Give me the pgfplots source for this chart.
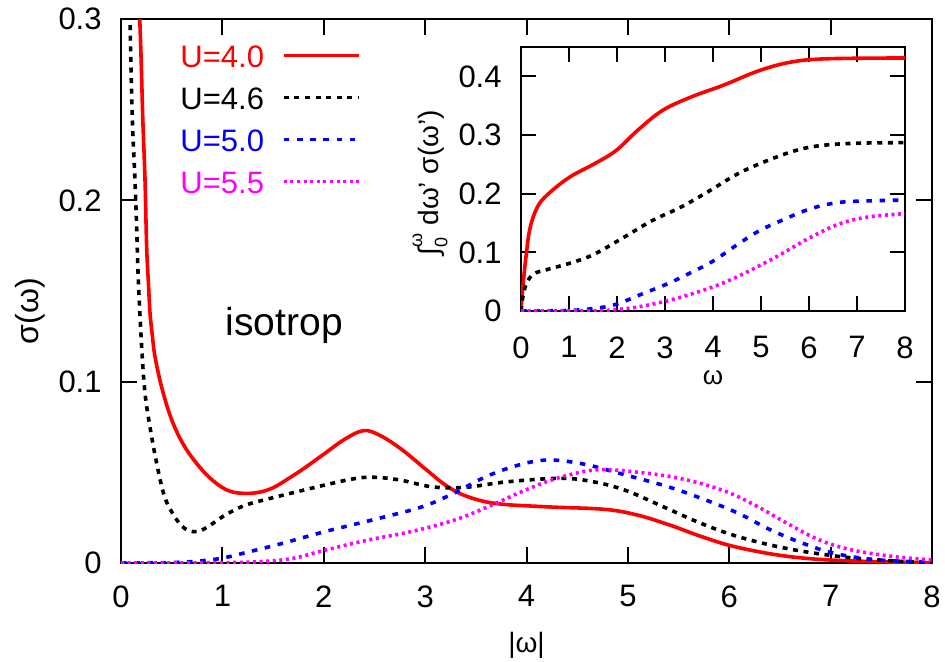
\documentclass[border=0pt]{standalone}
\usepackage{fontspec}
\setmainfont{Liberation Sans}
\usepackage{pgfplots}
\pgfplotsset{compat=1.18}

\definecolor{gpred}{RGB}{255,0,0}
\definecolor{gpblue}{RGB}{0,0,255}
\definecolor{gpmag}{RGB}{255,0,255}

\pgfplotsset{
  gp/.style={
    scale only axis,
    xmin=0, xmax=8,
    xtick={0,1,2,3,4,5,6,7,8},
    axis line style={line width=1pt},
    every tick/.style={line width=1pt, black},
    major tick length=8pt,
    tick align=inside,
    /pgf/number format/assume math mode=true,
    tick label style={font=\fontsize{15.5}{18}\selectfont, inner sep=0pt},
    yticklabel style={xshift=-9.5pt},
  },
  u40/.style={gpred, line width=1.8pt, smooth, tension=0.6},
  u46/.style={black, line width=1.8pt, dash pattern=on 2.5pt off 2.8pt, smooth, tension=0.6},
  u50/.style={gpblue, line width=1.8pt, dash pattern=on 2.8pt off 3.8pt, smooth, tension=0.6},
  u55/.style={gpmag, line width=1.8pt, dash pattern=on 1.5pt off 1.8pt, smooth, tension=0.6},
}

\newcommand{\intlim}{∫\kern0.5pt\raisebox{-0.3em}{\makebox[0pt][l]{\fontsize{9}{9}\selectfont 0}}\raisebox{0.6em}{\fontsize{9}{9}\selectfont ω}}

\begin{document}
\begin{tikzpicture}
\path[use as bounding box] (-60.5pt,-49pt) rectangle (412pt,281.5pt);

% main panel
\begin{axis}[gp,
  width=405.5pt, height=272pt,
  ymin=0, ymax=0.3,
  ytick={0,0.1,0.2,0.3},
  xticklabel style={yshift=-11pt},
  xlabel={|ω|},
  ylabel={σ(ω)},
  every axis x label/.style={at={(axis description cs:0.5,0)}, yshift=-41pt, anchor=center, font=\fontsize{14}{16}\selectfont},
  every axis y label/.style={at={(axis description cs:0,0.463)}, xshift=-45.5pt, rotate=90, anchor=center, font=\fontsize{16}{18}\selectfont},
  legend style={at={(0.0728,0.952)}, anchor=north west, draw=none, fill=none,
    inner sep=0pt, row sep=9.8pt, column sep=9pt,
    nodes={inner sep=0pt, text height=11.2pt, text depth=0pt, font=\fontsize{15.5}{18}\selectfont}},
  legend plot pos=right,
  legend cell align=left,
  legend image code/.code={\draw[#1] (0pt,0.6pt) -- (37.5pt,0.6pt);},
]
\addplot[u40] coordinates {
  (0.17,0.32) (0.185,0.30) (0.20,0.275) (0.215,0.245) (0.237,0.211) (0.253,0.1745)
  (0.27,0.155) (0.286,0.138) (0.31,0.125) (0.335,0.114) (0.40,0.0972) (0.50,0.079)
  (0.63,0.064) (0.80,0.0513) (0.95,0.0435) (1.08,0.0395) (1.22,0.0384) (1.36,0.039)
  (1.50,0.0415) (1.65,0.0465) (1.80,0.052) (2.00,0.060) (2.20,0.068) (2.39,0.073)
  (2.55,0.0705) (2.76,0.063) (3.00,0.052) (3.20,0.043) (3.40,0.037) (3.70,0.0328)
  (4.20,0.031) (4.77,0.0296) (5.09,0.0265) (5.41,0.021) (5.73,0.0145) (6.04,0.0092)
  (6.47,0.0045) (6.89,0.002) (7.47,0.0007) (8.00,0.0002)
};
\addlegendentry{\textcolor{gpred}{U=4.0}}
\addplot[u46] coordinates {
  (0.08,0.32) (0.089,0.30) (0.10,0.27) (0.115,0.24) (0.138,0.211) (0.155,0.184)
  (0.171,0.156) (0.204,0.119) (0.237,0.0936) (0.286,0.075) (0.352,0.055) (0.43,0.0366)
  (0.53,0.0255) (0.63,0.019) (0.75,0.0173) (0.87,0.0205) (1.00,0.0255) (1.13,0.0295)
  (1.26,0.0325) (1.54,0.0366) (2.01,0.043) (2.30,0.0465) (2.49,0.0473) (2.75,0.0458)
  (3.07,0.042) (3.39,0.0417) (3.81,0.0448) (4.34,0.0467) (4.66,0.0448) (4.98,0.040)
  (5.35,0.031) (5.72,0.0219) (6.09,0.0145) (6.56,0.0081) (7.10,0.0035) (7.63,0.0011)
  (8.00,0.0003)
};
\addlegendentry{U=4.6}
\addplot[u50] coordinates {
  (0,0) (0.50,0.0003) (0.75,0.001) (1.00,0.0027) (1.27,0.0063) (1.59,0.0108)
  (2.01,0.0173) (2.54,0.0246) (2.97,0.031) (3.28,0.0384) (3.60,0.0476) (3.92,0.054)
  (4.21,0.0568) (4.56,0.0546) (4.98,0.0485) (5.40,0.042) (5.77,0.0347) (6.09,0.0274)
  (6.41,0.0182) (6.73,0.0108) (7.04,0.0053) (7.46,0.0017) (8.00,0.0006)
};
\addlegendentry{\textcolor{gpblue}{U=5.0}}
\addplot[u55] coordinates {
  (0,0) (1.00,0.0002) (1.38,0.0008) (1.70,0.0026) (2.02,0.0072) (2.44,0.0127)
  (2.86,0.0173) (3.29,0.0237) (3.66,0.032) (3.98,0.040) (4.30,0.0467) (4.67,0.0513)
  (5.04,0.0504) (5.51,0.0467) (5.94,0.040) (6.25,0.032) (6.57,0.0219) (6.89,0.0127)
  (7.21,0.0072) (7.63,0.0035) (8.00,0.0017)
};
\addlegendentry{\textcolor{gpmag}{U=5.5}}
\node[anchor=base west, inner sep=0pt, font=\fontsize{19.5}{22}\selectfont] at (axis cs:1.03,0.1252) {isotrop};
\end{axis}

% inset: integrated weight
\begin{axis}[gp,
  at={(200pt,126pt)}, anchor=south west,
  width=192pt, height=132pt,
  ymin=0, ymax=0.45,
  ytick={0,0.1,0.2,0.3,0.4},
  major tick length=7.5pt,
  xticklabel style={yshift=-12.5pt},
  xlabel={ω},
  ylabel={\intlim\ dω' σ(ω')},
  every axis x label/.style={at={(axis description cs:0.5,0)}, yshift=-33.5pt, anchor=center, font=\fontsize{13}{15}\selectfont},
  every axis y label/.style={at={(axis description cs:0,0.485)}, xshift=-45.5pt, rotate=90, anchor=center, font=\fontsize{14}{16}\selectfont},
]
\addplot[u40] coordinates {
  (0,0) (0.037,0.04) (0.11,0.097) (0.19,0.142) (0.34,0.177) (0.56,0.199)
  (1.01,0.228) (1.53,0.251) (1.98,0.2735) (2.43,0.308) (2.95,0.342) (3.55,0.365)
  (4.22,0.385) (4.97,0.41) (5.64,0.4245) (6.39,0.430) (8.00,0.4313)
};
\addplot[u46] coordinates {
  (0,0) (0.037,0.023) (0.11,0.046) (0.26,0.063) (0.56,0.071) (1.08,0.083)
  (1.53,0.097) (2.13,0.125) (2.73,0.154) (3.33,0.177) (3.93,0.205) (4.52,0.234)
  (5.12,0.256) (5.72,0.2735) (6.24,0.282) (6.99,0.286) (8.00,0.287)
};
\addplot[u50] coordinates {
  (0,0) (1.01,0.001) (1.53,0.0046) (1.98,0.0114) (2.58,0.031) (3.03,0.0456)
  (3.48,0.063) (4.00,0.085) (4.52,0.114) (4.97,0.137) (5.42,0.154) (6.02,0.174)
  (6.62,0.185) (7.36,0.188) (8.00,0.189)
};
\addplot[u55] coordinates {
  (0,0) (1.50,0.0005) (1.98,0.0023) (2.43,0.0068) (3.03,0.017) (3.63,0.031)
  (4.22,0.048) (4.82,0.071) (5.42,0.097) (6.02,0.125) (6.62,0.148) (7.21,0.160)
  (8.00,0.166)
};
\end{axis}
\end{tikzpicture}
\end{document}
